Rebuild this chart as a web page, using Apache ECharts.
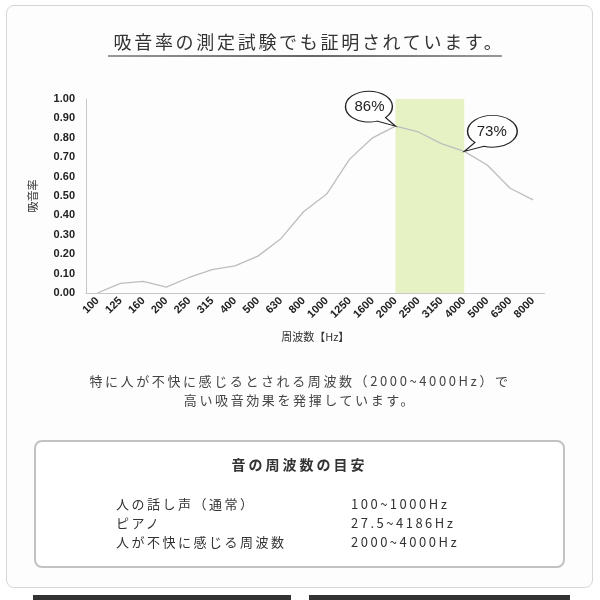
<!DOCTYPE html>
<html>
<head>
<meta charset="utf-8">
<script src="https://cdn.jsdelivr.net/npm/echarts@6/dist/echarts.min.js"></script>
<style>
  html, body { margin: 0; padding: 0; background: #fff; }
  body { width: 600px; height: 600px; position: relative; overflow: hidden;
         font-family: "Noto Sans CJK JP", "Noto Sans", sans-serif; color: #333; }
  .frame { position: absolute; left: 6px; top: 5px; width: 585px; height: 581px;
           border: 1px solid #d6d6d6; border-radius: 8px; background: #fdfdfd; }
  #chart { position: absolute; left: 0; top: 0; width: 600px; height: 600px; }
  .title { position: absolute; left: 9px; width: 600px; top: 29px; text-align: center;
           font-size: 18px; letter-spacing: 2.7px; line-height: 24px; color: #333; }
  .underline { position: absolute; left: 108px; top: 55px; width: 394px; height: 2px;
               background: linear-gradient(to right, #999, #666 50%, #999); }
  .lead { position: absolute; left: 0; width: 600px; top: 371px; text-align: center;
          font-size: 13px; letter-spacing: 2.6px; line-height: 19px; color: #444; }
  .box { position: absolute; left: 34px; top: 440px; width: 527px; height: 124px;
         border: 2px solid #c2c2c2; border-radius: 8px; background: #fff; }
  .box h3 { margin: 0; position: absolute; left: 0; width: 100%; top: 12px; text-align: center;
            font-size: 14px; font-weight: bold; letter-spacing: 3px; line-height: 20px; color: #333; }
  .row { position: absolute; font-size: 13px; letter-spacing: 2.5px; line-height: 19px; color: #333; }
  .strip { position: absolute; top: 595px; height: 5px; background: #333; }
</style>
</head>
<body>
<div class="frame"></div>
<div id="chart"></div>
<div class="title">吸音率の測定試験でも証明されています。</div>
<div class="underline"></div>
<div class="lead">特に人が不快に感じるとされる周波数（2000~4000Hz）で<br>高い吸音効果を発揮しています。</div>
<div class="box" id="box">
  <h3>音の周波数の目安</h3>
</div>
<div class="strip" style="left:33px;width:258px"></div>
<div class="strip" style="left:309px;width:261px"></div>
<script>
// 周波数（カテゴリ）
const freqs = ['100', '125', '160', '200', '250', '315', '400', '500', '630', '800',
  '1000', '1250', '1600', '2000', '2500', '3150', '4000', '5000', '6300', '8000'];
// 吸音率
const absorb = [0.00, 0.05, 0.06, 0.03, 0.08, 0.12, 0.14, 0.19, 0.28, 0.42,
  0.51, 0.69, 0.80, 0.86, 0.83, 0.77, 0.73, 0.66, 0.54, 0.48];
// 不快域
const bandFrom = '2000';
const bandTo = '4000';
// 吹き出し
const calloutLeft = '2000';
const calloutRight = '4000';
// 目安表
const guideNames = ['人の話し声（通常）', 'ピアノ', '人が不快に感じる周波数'];
const guideRanges = ['100~1000Hz', '27.5~4186Hz', '2000~4000Hz'];

// 目安表の行
const box = document.getElementById('box');
guideNames.forEach(function (name, i) {
  let l = document.createElement('div');
  l.className = 'row';
  l.style.left = '80px';
  l.style.top = (52 + i * 19) + 'px';
  l.textContent = name;
  box.appendChild(l);
  let r = document.createElement('div');
  r.className = 'row';
  r.style.left = '315px';
  r.style.top = (52 + i * 19) + 'px';
  r.textContent = guideRanges[i];
  box.appendChild(r);
});

// 吹き出し形（左：しっぽ右下、右：しっぽ左下）
const bubbleTailRight = 'path://M80.5 53.2 A46 30 0 1 0 63.7 60.2 L100 70 Z';
const bubbleTailLeft = 'path://M19.5 53.2 A46 30 0 1 1 36.3 60.2 L0 70 Z';

function pct(cat) {
  return Math.round(absorb[freqs.indexOf(cat)] * 100) + '%';
}

let chart = echarts.init(document.getElementById('chart'), null, { renderer: 'canvas' });

let option = {
  backgroundColor: 'transparent',
  animation: false,
  grid: { left: 86, right: 55.5, top: 99, bottom: 307 },
  xAxis: {
    type: 'category',
    data: freqs,
    boundaryGap: true,
    name: '周波数【Hz】',
    nameLocation: 'middle',
    nameGap: 38,
    nameTextStyle: { fontSize: 11, color: '#333', fontFamily: 'Noto Sans CJK JP' },
    axisLine: { lineStyle: { color: '#c8c8c8', width: 1 } },
    axisTick: { show: false },
    axisLabel: {
      interval: 0, rotate: 45, margin: 6,
      fontSize: 11, fontWeight: 'bold', color: '#222', fontFamily: 'Liberation Sans'
    },
    splitLine: { show: false }
  },
  yAxis: {
    type: 'value',
    min: 0, max: 1, interval: 0.1,
    name: '吸音率',
    nameLocation: 'middle',
    nameRotate: 90,
    nameGap: 48,
    nameTextStyle: { fontSize: 11, color: '#333', fontFamily: 'Noto Sans CJK JP' },
    axisLine: { show: true, lineStyle: { color: '#c8c8c8', width: 1 } },
    axisTick: { show: false },
    axisLabel: {
      margin: 11, fontSize: 11, fontWeight: 'bold', color: '#222', fontFamily: 'Liberation Sans',
      formatter: function (v) { return v.toFixed(2); }
    },
    splitLine: { show: false }
  },
  series: [
    {
      type: 'line',
      data: [],
      z: 1,
      silent: true,
      markArea: {
        silent: true,
        itemStyle: { color: '#e6f2c3' },
        data: [[{ xAxis: bandFrom, yAxis: 0 }, { xAxis: bandTo, yAxis: 1 }]]
      }
    },
    {
      type: 'line',
      data: absorb,
      z: 3,
      symbol: 'none',
      lineStyle: { color: '#bdbdbd', width: 1.3 },
      markPoint: {
        silent: true,
        symbolKeepAspect: false,
        itemStyle: { color: '#fff', borderColor: '#222', borderWidth: 1.2 },
        label: {
          show: true, position: 'inside', color: '#222', fontSize: 15,
          fontFamily: 'Liberation Sans', formatter: function (p) { return p.name; }
        },
        data: [
          {
            name: pct(calloutLeft),
            coord: [calloutLeft, absorb[freqs.indexOf(calloutLeft)]],
            symbol: bubbleTailRight, symbolSize: [50, 35], symbolOffset: [-25, -17.5],
            label: { offset: [-1, -2] }
          },
          {
            name: pct(calloutRight),
            coord: [calloutRight, absorb[freqs.indexOf(calloutRight)]],
            symbol: bubbleTailLeft, symbolSize: [53, 36], symbolOffset: [26.5, -18],
            label: { offset: [1, -2] }
          }
        ]
      }
    }
  ]
};

chart.setOption(option);
</script>
</body>
</html>
